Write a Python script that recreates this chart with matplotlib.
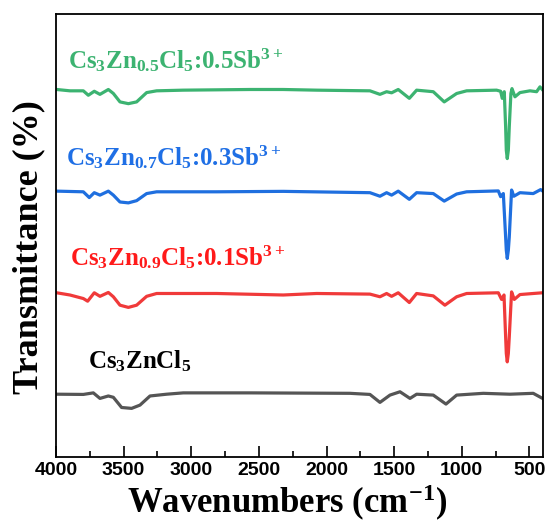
import matplotlib
matplotlib.use('Agg')
import matplotlib.pyplot as plt
from matplotlib.ticker import MultipleLocator

plt.rcParams['mathtext.default'] = 'regular'

# FTIR spectra (offset, arbitrary transmittance units)
wn_05 = [3995, 3897, 3798, 3761, 3717, 3675, 3613, 3576, 3527, 3465, 3404, 3330, 3256, 3059,
         2566, 2320, 2073, 1679, 1605, 1556, 1519, 1470, 1388, 1334, 1211, 1130, 1038, 964,
         743, 713, 701, 686, 676, 671, 664, 656, 649, 637, 629, 607, 570, 496, 447, 422, 405]
t_05 = [83.0, 82.7, 82.7, 81.7, 82.6, 81.9, 83.0, 82.1, 80.2, 79.8, 80.2, 82.3, 82.7, 82.85,
        83.0, 83.0, 82.85, 82.7, 81.9, 82.5, 82.25, 83.0, 81.0, 82.85, 82.5, 80.2, 82.1, 82.7,
        82.85, 82.6, 81.0, 82.5, 74.6, 69.3, 67.4, 69.3, 74.6, 82.1, 83.2, 81.35, 82.3, 82.7, 82.5, 83.6, 83.0]

wn_07 = [3995, 3798, 3754, 3717, 3675, 3613, 3576, 3527, 3465, 3404, 3330, 3256, 2812, 2320,
         1679, 1605, 1556, 1519, 1470, 1388, 1334, 1211, 1130, 1038, 964, 730, 713, 693,
         676, 671, 664, 656, 649, 632, 615, 570, 472, 417, 403]
t_07 = [60.05, 59.9, 58.6, 59.7, 59.15, 60.05, 59.15, 57.6, 57.4, 57.9, 59.5, 59.9, 59.9, 60.0,
        59.7, 58.9, 59.7, 59.15, 60.05, 58.2, 59.7, 59.5, 57.8, 59.4, 59.9, 60.1, 58.8, 59.5,
        49.7, 46.7, 44.85, 46.7, 49.7, 60.3, 58.9, 59.7, 59.5, 60.4, 60.1]

wn_09 = [3995, 3897, 3798, 3766, 3717, 3675, 3613, 3576, 3527, 3465, 3404, 3330, 3256, 2812,
         2320, 2073, 1679, 1605, 1556, 1519, 1470, 1388, 1334, 1211, 1125, 1038, 964, 730,
         706, 688, 676, 671, 664, 656, 649, 632, 612, 570, 472, 403]
t_09 = [37.1, 36.6, 35.8, 35.2, 37.1, 36.3, 37.17, 36.2, 34.3, 33.8, 34.3, 36.3, 36.94, 36.94,
        36.6, 36.94, 36.8, 36.2, 36.94, 36.3, 37.1, 34.9, 36.94, 36.4, 34.3, 36.2, 36.94, 37.1,
        35.6, 36.6, 27.16, 23.4, 21.5, 23.4, 27.16, 37.3, 35.6, 36.7, 36.94, 37.1]

wn_pure = [3995, 3798, 3724, 3675, 3613, 3576, 3515, 3441, 3379, 3305, 3182, 3059, 2566, 1827,
           1679, 1605, 1531, 1457, 1383, 1334, 1211, 1117, 1038, 841, 644, 472, 403]
t_pure = [14.2, 14.15, 14.5, 13.25, 13.8, 13.5, 11.2, 11.0, 11.74, 13.8, 14.2, 14.5, 14.5, 14.4,
          14.15, 12.35, 14.0, 14.75, 13.25, 14.2, 14.0, 11.97, 14.0, 14.4, 14.2, 14.4, 13.25]

labels = ['Cs$_3$Zn$_{0.5}$Cl$_5$:0.5Sb$^{3+}$',
          'Cs$_3$Zn$_{0.7}$Cl$_5$:0.3Sb$^{3+}$',
          'Cs$_3$Zn$_{0.9}$Cl$_5$:0.1Sb$^{3+}$',
          'Cs$_3$ZnCl$_5$']

fig = plt.figure(figsize=(5.49, 5.26), dpi=100)
ax = fig.add_axes([0.102, 0.131, 0.887, 0.842])

ax.plot(wn_05, t_05, color='#3cb371', lw=2.3, solid_joinstyle='round')
ax.plot(wn_07, t_07, color='#1f6fdf', lw=2.3, solid_joinstyle='round')
ax.plot(wn_09, t_09, color='#f03a3a', lw=2.3, solid_joinstyle='round')
ax.plot(wn_pure, t_pure, color='#555555', lw=2.3, solid_joinstyle='round')

font = dict(fontfamily='Liberation Serif', fontweight='bold', fontsize=18, va='baseline')
ax.text(3911, 87.8, labels[0], color='#3cb371', **font)
ax.text(3926, 65.9, labels[1], color='#1f6fe5', **font)
ax.text(3897, 43.3, labels[2], color='#ff1a1a', **font)
ax.text(3763, 20.1, labels[3], color='black', **font)

ax.set_xlim(4000, 400)
ax.set_ylim(0, 100)
ax.xaxis.set_major_locator(MultipleLocator(500))
ax.xaxis.set_minor_locator(MultipleLocator(250))
ax.tick_params(axis='x', which='major', direction='in', length=8, width=1.2, top=False)
ax.tick_params(axis='x', which='minor', direction='in', length=4, width=1.2, top=False)
ax.set_yticks([])
for lab in ax.get_xticklabels():
    lab.set_fontfamily('Liberation Sans')
    lab.set_fontweight('bold')
    lab.set_fontsize(14)
for sp in ax.spines.values():
    sp.set_linewidth(1.3)

ax.set_xlabel('Wavenumbers (cm$^{-1}$)', fontfamily='Liberation Serif',
              fontweight='bold', fontsize=25)
ax.xaxis.set_label_coords(0.474, -0.128)
ax.xaxis.label.set_va('baseline')
ax.set_ylabel('Transmittance (%)', fontfamily='Liberation Serif', fontweight='bold',
              fontsize=26)
ax.yaxis.set_label_coords(-0.022, 0.475)

fig.savefig('out.png', dpi=100)
